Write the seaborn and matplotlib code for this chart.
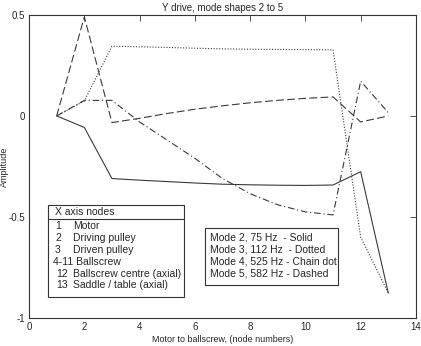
"""Y drive mode shapes 2 to 5 along the motor / ballscrew nodes."""

import pandas as pd
import matplotlib
matplotlib.use("Agg")
import matplotlib.pyplot as plt
import seaborn as sb
from matplotlib.patches import Rectangle

nodes = list(range(1, 14))
mode2 = [0, -0.057, -0.31, -0.318, -0.325, -0.332, -0.338, -0.341, -0.343, -0.344, -0.342, -0.276, -0.877]
mode3 = [0, 0.074, 0.345, 0.342, 0.339, 0.335, 0.332, 0.330, 0.329, 0.328, 0.327, -0.60, -0.877]
mode4 = [0, 0.077, 0.077, -0.03, -0.12, -0.21, -0.31, -0.385, -0.44, -0.475, -0.49, 0.172, 0.016]
mode5 = [0, 0.49, -0.033, -0.012, 0.012, 0.033, 0.05, 0.065, 0.077, 0.087, 0.094, -0.03, 0.0]

mode_names = ["Mode 2", "Mode 3", "Mode 4", "Mode 5"]
node_rows = [("1", "Motor"), ("2", "Driving pulley"), ("3", "Driven pulley"),
             ("4-11 Ballscrew", ""), ("12", "Ballscrew centre (axial)"),
             ("13", "Saddle / table (axial)")]
mode_rows = ["Mode 2, 75 Hz  - Solid", "Mode 3, 112 Hz  - Dotted",
             "Mode 4, 525 Hz - Chain dot", "Mode 5, 582 Hz - Dashed"]


def main():
    df = pd.DataFrame({"node": nodes * 4,
                       "amp": mode2 + mode3 + mode4 + mode5,
                       "mode": [m for m in mode_names for _ in nodes]})

    sb.set_style("white")
    plt.rcParams["font.family"] = ["Liberation Sans", "DejaVu Sans"]

    fig = plt.figure(figsize=(4.21, 3.46), dpi=100)
    ax = fig.add_axes([0.069, 0.081, 0.919, 0.876])

    styles = {"Mode 2": "-", "Mode 3": (0, (1, 1.5)), "Mode 4": (0, (6, 2.5, 1, 2.5)),
              "Mode 5": (0, (7, 3))}
    for name in mode_names:
        sub = df[df["mode"] == name]
        sb.lineplot(data=sub, x="node", y="amp", ax=ax, color="#3a3a3a",
                    linewidth=0.8, linestyle=styles[name], legend=False)

    ax.set_xlim(0, 14)
    ax.set_ylim(-1, 0.5)
    ax.set_xticks(range(0, 15, 2))
    ax.set_yticks([-1, -0.5, 0, 0.5])
    ax.set_yticklabels(["-1", "-0.5", "0", "0.5"])
    ax.tick_params(direction="in", top=True, right=True, length=4, width=0.6,
                   labelsize=7, color="#333333", pad=3)
    for sp in ax.spines.values():
        sp.set_linewidth(0.8)
        sp.set_color("#333333")
    ax.set_title("Y drive, mode shapes 2 to 5", fontsize=7, pad=3)
    ax.set_xlabel("Motor to ballscrew, (node numbers)", fontsize=6.5, labelpad=2)
    ax.set_ylabel("Amplitude", fontsize=6.5)
    ax.yaxis.set_label_coords(-0.052, 0.5)

    # node description box
    ax.add_patch(Rectangle((0.049, 0.069), 0.351, 0.304, transform=ax.transAxes,
                           facecolor="white", edgecolor="#333333", lw=0.8, zorder=5))
    ax.plot([0.049, 0.40], [0.326, 0.326], transform=ax.transAxes,
            color="#333333", lw=0.8, zorder=6)
    ax.text(0.067, 0.35, "X axis nodes", transform=ax.transAxes, fontsize=7.5,
            va="center", zorder=7)
    row_y = [0.304, 0.264, 0.224, 0.186, 0.146, 0.108]
    for (num, label), y in zip(node_rows, row_y):
        nx = 0.062 if label == "" else (0.070 if len(num) > 1 else 0.067)
        ax.text(nx, y, num, transform=ax.transAxes, fontsize=7.5, va="center", zorder=7)
        if label:
            ax.text(0.113, y, label, transform=ax.transAxes, fontsize=7.5,
                    va="center", zorder=7)

    # mode description box
    ax.add_patch(Rectangle((0.455, 0.109), 0.343, 0.188, transform=ax.transAxes,
                           facecolor="white", edgecolor="#333333", lw=0.8, zorder=5))
    for txt, y in zip(mode_rows, [0.265, 0.225, 0.186, 0.148]):
        ax.text(0.468, y, txt, transform=ax.transAxes, fontsize=7.5,
                va="center", zorder=7)

    fig.savefig("out.png", dpi=100)
    plt.close(fig)


if __name__ == "__main__":
    main()
